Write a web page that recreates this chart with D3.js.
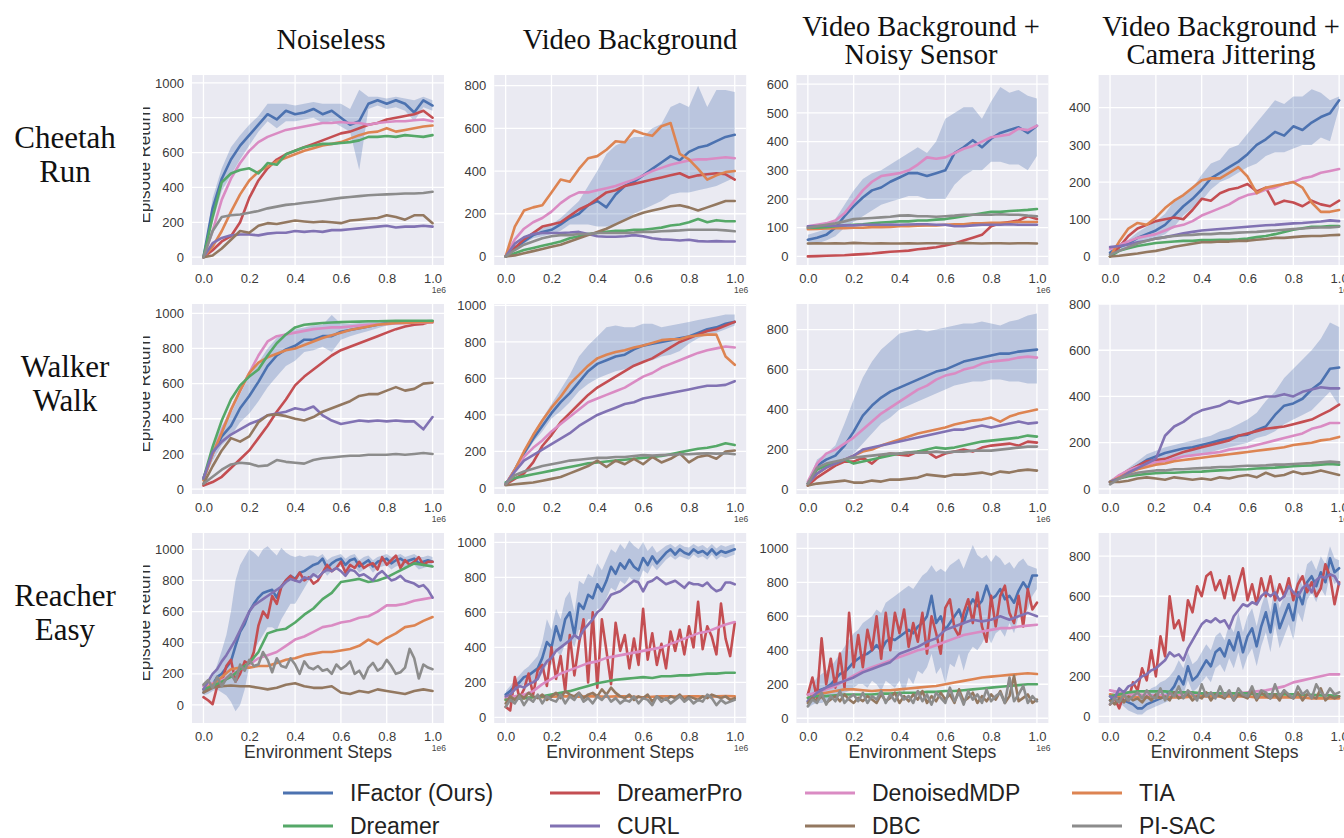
<!DOCTYPE html>
<html>
<head>
<meta charset="utf-8">
<script src="https://cdn.jsdelivr.net/npm/d3@7"></script>
<style>
  body { margin: 0; background: #fff; }
  svg { display: block; }
</style>
</head>
<body>
<svg id="chart" width="1344" height="838"></svg>
<script>
// ---------------------------------------------------------------------------
// Methods, environments and noise settings
// ---------------------------------------------------------------------------
const methodKeys = ["IFactor", "DreamerPro", "DenoisedMDP", "TIA", "Dreamer", "CURL", "DBC", "PISAC"];
const methodNames = ["IFactor (Ours)", "DreamerPro", "DenoisedMDP", "TIA", "Dreamer", "CURL", "DBC", "PI-SAC"];
const rowLabels = [["Cheetah", "Run"], ["Walker", "Walk"], ["Reacher", "Easy"]];
const colTitles = [["Noiseless"], ["Video Background"], ["Video Background +", "Noisy Sensor"], ["Video Background +", "Camera Jittering"]];
const xTicks = [0, 0.2, 0.4, 0.6, 0.8, 1.0];
const ticks1000 = [0, 200, 400, 600, 800, 1000];
const ticks800 = [0, 200, 400, 600, 800];
const ticks600 = [0, 100, 200, 300, 400, 500, 600];
const ticks400 = [0, 100, 200, 300, 400];

// ---------------------------------------------------------------------------
// Episode returns (evenly spaced over 0 .. 1e6 environment steps)
// ---------------------------------------------------------------------------
// Cheetah Run
const cheetahNoiseless = {
  IFactor:     [0, 280, 450, 560, 640, 700, 760, 820, 790, 840, 820, 830, 850, 820, 840, 800, 760, 780, 880, 900, 880, 900, 880, 830, 900, 870],
  DreamerPro:  [0, 40, 90, 120, 200, 340, 440, 510, 560, 590, 610, 630, 650, 670, 690, 710, 720, 740, 760, 770, 790, 800, 810, 820, 840, 800],
  DenoisedMDP: [0, 150, 330, 450, 540, 610, 660, 690, 710, 730, 740, 750, 760, 770, 770, 775, 770, 770, 760, 770, 775, 780, 780, 785, 790, 780],
  TIA:         [0, 60, 150, 260, 360, 440, 490, 520, 550, 570, 590, 610, 625, 640, 650, 660, 680, 700, 715, 720, 740, 720, 730, 740, 750, 755],
  Dreamer:     [0, 230, 430, 480, 500, 510, 480, 540, 530, 590, 610, 630, 640, 650, 650, 655, 660, 670, 690, 690, 695, 690, 700, 695, 690, 700],
  CURL:        [0, 80, 110, 125, 130, 130, 125, 135, 140, 140, 150, 145, 150, 145, 155, 155, 160, 165, 170, 175, 180, 170, 175, 175, 180, 175],
  DBC:         [0, 10, 50, 100, 150, 140, 180, 195, 190, 200, 210, 205, 200, 205, 200, 195, 210, 215, 220, 225, 240, 230, 215, 240, 240, 195],
  PISAC:       [0, 150, 230, 240, 245, 255, 265, 280, 290, 300, 305, 312, 318, 325, 333, 340, 345, 350, 355, 358, 360, 362, 365, 365, 368, 375]
};
const cheetahNoiselessBand = {
  lo: [0, 200, 380, 470, 560, 640, 720, 780, 740, 780, 780, 790, 800, 770, 780, 750, 720, 500, 850, 870, 850, 860, 840, 780, 860, 840],
  hi: [0, 340, 510, 630, 700, 760, 810, 880, 880, 880, 870, 880, 890, 880, 880, 880, 850, 960, 920, 920, 910, 920, 910, 900, 920, 900]
};

const cheetahVideo = {
  IFactor:     [0, 40, 70, 100, 115, 125, 150, 180, 200, 240, 260, 230, 290, 330, 350, 380, 410, 440, 470, 450, 490, 510, 520, 540, 560, 570],
  DreamerPro:  [0, 40, 80, 110, 140, 150, 160, 190, 220, 240, 270, 300, 310, 330, 340, 350, 360, 370, 380, 390, 370, 380, 385, 390, 385, 360],
  DenoisedMDP: [0, 80, 130, 160, 180, 210, 250, 280, 300, 300, 310, 320, 330, 345, 360, 380, 400, 415, 430, 440, 450, 455, 455, 460, 465, 460],
  TIA:         [0, 140, 215, 230, 240, 300, 360, 350, 410, 460, 470, 500, 540, 535, 590, 575, 565, 610, 625, 480, 455, 410, 360, 380, 395, 400],
  Dreamer:     [0, 15, 30, 40, 50, 60, 70, 85, 95, 105, 110, 115, 120, 120, 125, 125, 130, 135, 145, 150, 160, 175, 160, 170, 165, 165],
  CURL:        [0, 60, 90, 105, 110, 110, 110, 112, 115, 105, 95, 92, 92, 95, 100, 95, 85, 80, 78, 75, 78, 72, 70, 72, 70, 70],
  DBC:         [0, 5, 15, 25, 35, 45, 55, 70, 85, 100, 115, 130, 150, 170, 190, 205, 215, 225, 235, 240, 230, 215, 230, 245, 260, 260],
  PISAC:       [0, 30, 55, 70, 85, 95, 100, 100, 105, 105, 110, 110, 110, 110, 112, 115, 115, 118, 120, 122, 125, 125, 125, 125, 122, 118]
};
const cheetahVideoBand = {
  lo: [0, 30, 60, 85, 95, 105, 120, 150, 150, 150, 140, 140, 150, 170, 200, 220, 240, 260, 290, 300, 300, 310, 320, 330, 350, 370],
  hi: [0, 50, 80, 115, 135, 150, 180, 220, 260, 330, 400, 480, 520, 540, 560, 560, 600, 620, 700, 720, 700, 800, 700, 780, 780, 770]
};

const cheetahNoisy = {
  IFactor:     [58, 65, 75, 100, 140, 175, 205, 230, 240, 260, 275, 290, 290, 280, 290, 300, 360, 380, 405, 380, 410, 430, 440, 450, 430, 455],
  DreamerPro:  [0, 1, 2, 3, 4, 6, 8, 10, 13, 16, 18, 20, 25, 28, 32, 38, 45, 55, 65, 75, 105, 115, 120, 125, 140, 130],
  DenoisedMDP: [105, 110, 115, 125, 150, 190, 230, 260, 280, 285, 290, 300, 320, 345, 340, 345, 360, 375, 385, 400, 415, 420, 425, 445, 440, 455],
  TIA:         [95, 96, 97, 98, 98, 100, 100, 102, 102, 103, 105, 105, 107, 108, 108, 110, 112, 112, 115, 115, 117, 117, 118, 120, 120, 120],
  Dreamer:     [100, 100, 102, 105, 108, 110, 112, 115, 118, 120, 122, 122, 125, 125, 128, 130, 135, 140, 145, 150, 155, 155, 158, 160, 162, 165],
  CURL:        [105, 106, 107, 107, 108, 108, 110, 110, 110, 111, 110, 111, 112, 112, 110, 110, 105, 105, 108, 110, 110, 110, 112, 110, 110, 110],
  DBC:         [45, 46, 45, 46, 45, 47, 46, 45, 46, 45, 45, 46, 45, 46, 46, 45, 46, 47, 46, 45, 46, 46, 45, 46, 46, 45],
  PISAC:       [100, 105, 110, 115, 122, 130, 132, 134, 136, 138, 142, 143, 140, 140, 138, 140, 142, 145, 145, 145, 145, 147, 145, 145, 142, 140]
};
const cheetahNoisyBand = {
  lo: [40, 45, 55, 70, 100, 120, 140, 160, 180, 190, 200, 210, 210, 200, 200, 200, 250, 280, 300, 300, 330, 330, 320, 320, 300, 350],
  hi: [75, 85, 95, 130, 180, 230, 270, 290, 300, 320, 340, 360, 380, 360, 400, 480, 500, 520, 520, 480, 540, 590, 570, 580, 560, 550]
};

const cheetahJitter = {
  IFactor:     [10, 25, 35, 50, 60, 70, 85, 110, 135, 155, 180, 210, 225, 240, 255, 275, 300, 315, 335, 325, 350, 340, 360, 375, 385, 420],
  DreamerPro:  [0, 25, 55, 75, 85, 95, 100, 105, 100, 125, 155, 150, 170, 180, 185, 195, 175, 185, 140, 150, 145, 135, 150, 140, 135, 150],
  DenoisedMDP: [20, 30, 40, 50, 55, 60, 70, 80, 85, 95, 110, 120, 130, 140, 155, 165, 170, 180, 185, 195, 200, 210, 215, 225, 230, 235],
  TIA:         [0, 40, 75, 90, 85, 105, 130, 150, 165, 185, 205, 210, 210, 225, 240, 215, 170, 185, 190, 195, 200, 185, 145, 120, 120, 125],
  Dreamer:     [0, 15, 22, 28, 32, 36, 38, 40, 42, 42, 44, 44, 45, 45, 46, 48, 52, 55, 60, 66, 72, 76, 80, 80, 82, 82],
  CURL:        [25, 28, 32, 38, 42, 48, 52, 57, 62, 66, 70, 72, 74, 76, 78, 80, 82, 84, 85, 87, 89, 90, 92, 94, 97, 95],
  DBC:         [0, 2, 5, 8, 12, 15, 20, 26, 30, 34, 38, 38, 40, 40, 42, 42, 45, 47, 50, 50, 52, 54, 55, 55, 57, 58],
  PISAC:       [5, 15, 25, 35, 42, 48, 52, 55, 57, 58, 60, 60, 62, 62, 64, 65, 66, 68, 70, 72, 74, 75, 77, 78, 78, 80]
};
const cheetahJitterBand = {
  lo: [0, 15, 25, 35, 45, 50, 60, 80, 110, 130, 150, 180, 200, 210, 225, 240, 250, 270, 280, 280, 290, 300, 300, 320, 310, 400],
  hi: [20, 35, 45, 65, 80, 95, 115, 150, 165, 185, 220, 250, 260, 290, 300, 330, 360, 390, 420, 410, 430, 430, 450, 440, 420, 430]
};

// Walker Walk
const walkerNoiseless = {
  IFactor:     [60, 200, 300, 360, 460, 530, 610, 700, 760, 795, 815, 850, 850, 870, 870, 895, 905, 915, 925, 935, 945, 948, 950, 950, 952, 955],
  DreamerPro:  [20, 40, 70, 120, 170, 220, 290, 360, 440, 510, 590, 640, 680, 720, 760, 790, 810, 830, 850, 870, 890, 910, 925, 935, 940, 955],
  DenoisedMDP: [60, 200, 330, 450, 560, 660, 760, 840, 870, 880, 890, 900, 910, 915, 920, 920, 925, 930, 935, 938, 940, 942, 945, 946, 948, 948],
  TIA:         [50, 200, 320, 450, 560, 660, 720, 750, 770, 790, 800, 820, 840, 860, 875, 890, 905, 915, 925, 935, 940, 945, 945, 948, 950, 950],
  Dreamer:     [60, 240, 390, 510, 590, 640, 680, 760, 830, 880, 920, 935, 940, 945, 948, 950, 952, 953, 955, 955, 956, 957, 958, 958, 958, 958],
  CURL:        [60, 210, 270, 310, 340, 370, 390, 420, 430, 440, 460, 450, 470, 420, 390, 370, 380, 390, 385, 390, 385, 390, 385, 385, 340, 410],
  DBC:         [30, 130, 220, 290, 270, 300, 380, 420, 425, 415, 400, 390, 410, 440, 460, 480, 500, 530, 540, 540, 560, 580, 560, 570, 600, 605],
  PISAC:       [30, 70, 110, 140, 150, 145, 130, 135, 165, 155, 150, 145, 165, 175, 180, 185, 190, 190, 195, 195, 195, 200, 195, 200, 205, 200]
};
const walkerNoiselessBand = {
  lo: [40, 160, 250, 300, 380, 430, 500, 580, 640, 700, 730, 780, 790, 810, 780, 850, 870, 885, 900, 915, 930, 935, 940, 940, 945, 945],
  hi: [80, 240, 360, 430, 540, 640, 720, 800, 860, 890, 910, 920, 930, 935, 990, 940, 940, 945, 950, 950, 955, 960, 960, 960, 960, 965]
};

const walkerVideo = {
  IFactor:     [20, 100, 190, 270, 340, 410, 470, 520, 580, 640, 680, 700, 720, 730, 760, 780, 790, 800, 810, 820, 830, 850, 870, 880, 900, 910],
  DreamerPro:  [20, 50, 80, 140, 230, 290, 360, 410, 460, 510, 550, 580, 610, 640, 670, 690, 710, 740, 770, 800, 820, 840, 860, 870, 890, 910],
  DenoisedMDP: [20, 100, 170, 220, 260, 310, 350, 390, 430, 470, 490, 510, 530, 550, 580, 610, 630, 660, 680, 700, 720, 740, 755, 765, 775, 770],
  TIA:         [20, 100, 200, 290, 370, 440, 500, 570, 620, 670, 710, 730, 745, 755, 770, 780, 795, 810, 815, 815, 830, 835, 840, 840, 720, 675],
  Dreamer:     [30, 55, 65, 75, 85, 95, 105, 115, 125, 135, 140, 145, 150, 155, 160, 165, 170, 175, 185, 195, 205, 215, 220, 230, 245, 235],
  CURL:        [20, 90, 150, 180, 210, 240, 270, 300, 340, 370, 400, 420, 440, 460, 470, 490, 500, 510, 520, 530, 540, 550, 560, 560, 565, 585],
  DBC:         [15, 20, 25, 30, 40, 50, 60, 80, 100, 120, 150, 115, 150, 130, 160, 130, 170, 140, 160, 190, 140, 170, 180, 160, 200, 205],
  PISAC:       [20, 70, 90, 105, 120, 130, 140, 150, 155, 160, 165, 165, 170, 170, 175, 180, 178, 180, 182, 185, 185, 188, 190, 188, 190, 185]
};
const walkerVideoBand = {
  lo: [15, 85, 170, 250, 310, 380, 420, 470, 530, 570, 600, 620, 640, 650, 670, 690, 700, 720, 730, 750, 790, 820, 840, 850, 870, 890],
  hi: [25, 115, 210, 300, 380, 460, 540, 620, 720, 780, 830, 880, 890, 880, 880, 900, 900, 880, 890, 900, 910, 920, 930, 940, 950, 950]
};

const walkerNoisy = {
  IFactor:     [30, 120, 150, 170, 220, 290, 370, 420, 460, 490, 510, 530, 550, 570, 590, 600, 620, 640, 650, 660, 670, 680, 680, 690, 695, 700],
  DreamerPro:  [20, 60, 90, 120, 140, 140, 160, 130, 170, 180, 175, 170, 190, 190, 160, 180, 190, 200, 190, 210, 220, 225, 230, 220, 240, 235],
  DenoisedMDP: [40, 130, 180, 200, 230, 260, 300, 340, 380, 410, 440, 470, 500, 520, 550, 570, 580, 600, 610, 630, 640, 645, 650, 660, 665, 660],
  TIA:         [30, 80, 110, 130, 150, 170, 190, 200, 220, 235, 250, 265, 280, 290, 300, 310, 325, 335, 345, 350, 360, 340, 365, 380, 390, 400],
  Dreamer:     [30, 100, 120, 130, 150, 130, 140, 150, 160, 170, 180, 185, 190, 200, 210, 205, 210, 220, 230, 240, 245, 250, 255, 260, 270, 265],
  CURL:        [30, 80, 110, 130, 150, 170, 200, 210, 220, 230, 240, 250, 260, 270, 280, 290, 300, 300, 310, 320, 310, 320, 330, 340, 330, 335],
  DBC:         [20, 30, 35, 40, 45, 35, 35, 45, 40, 50, 50, 55, 60, 75, 70, 65, 75, 75, 80, 85, 75, 90, 85, 95, 100, 95],
  PISAC:       [30, 110, 130, 140, 150, 160, 165, 170, 175, 180, 180, 185, 185, 185, 190, 185, 190, 190, 195, 195, 195, 200, 205, 210, 215, 215]
};
const walkerNoisyBand = {
  lo: [20, 90, 110, 120, 140, 180, 230, 280, 330, 360, 400, 420, 440, 460, 480, 500, 520, 530, 540, 540, 550, 550, 540, 540, 530, 530],
  hi: [40, 150, 180, 220, 330, 450, 560, 640, 700, 740, 780, 790, 800, 790, 800, 810, 820, 830, 830, 840, 830, 820, 840, 850, 870, 880]
};

const walkerJitter = {
  IFactor:     [30, 50, 75, 100, 125, 140, 155, 165, 175, 180, 190, 200, 210, 220, 230, 235, 255, 270, 320, 360, 370, 390, 430, 460, 520, 525],
  DreamerPro:  [30, 55, 80, 100, 120, 125, 130, 145, 160, 170, 180, 190, 200, 210, 230, 240, 250, 260, 265, 270, 280, 290, 300, 320, 340, 365],
  DenoisedMDP: [30, 60, 80, 95, 105, 115, 120, 130, 140, 145, 150, 155, 160, 170, 175, 180, 190, 200, 210, 220, 230, 240, 260, 270, 285, 285],
  TIA:         [30, 50, 70, 85, 95, 105, 110, 120, 125, 130, 135, 140, 145, 150, 155, 160, 165, 170, 175, 180, 190, 195, 200, 210, 215, 225],
  Dreamer:     [30, 45, 55, 60, 65, 68, 70, 70, 72, 74, 75, 78, 80, 82, 84, 85, 88, 90, 92, 95, 98, 100, 102, 105, 108, 105],
  CURL:        [30, 45, 70, 90, 110, 130, 230, 270, 290, 320, 340, 350, 360, 380, 370, 380, 390, 400, 400, 410, 400, 420, 430, 440, 435, 435],
  DBC:         [30, 30, 35, 45, 50, 45, 40, 50, 45, 40, 45, 40, 50, 45, 55, 60, 50, 70, 55, 60, 75, 65, 70, 80, 70, 60],
  PISAC:       [20, 45, 60, 70, 75, 80, 80, 85, 85, 88, 90, 92, 95, 95, 98, 100, 100, 102, 105, 105, 108, 110, 112, 115, 118, 115]
};
const walkerJitterBand = {
  lo: [20, 40, 60, 80, 100, 110, 120, 130, 140, 145, 150, 160, 170, 180, 190, 200, 220, 230, 250, 280, 300, 320, 340, 380, 420, 360],
  hi: [40, 60, 90, 120, 150, 165, 180, 190, 200, 210, 220, 230, 250, 260, 280, 300, 330, 380, 420, 480, 520, 560, 600, 650, 720, 700]
};

// Reacher Easy
const reacherNoiseless = {
  IFactor:     [80, 100, 130, 180, 200, 240, 280, 380, 470, 520, 600, 650, 690, 720, 730, 740, 690, 760, 800, 830, 810, 850, 860, 880, 900, 910, 940, 880, 910, 930, 940, 900, 930, 940, 890, 910, 930, 890, 920, 930, 940, 910, 930, 940, 920, 930, 940, 910, 920, 930, 920],
  DreamerPro:  [50, 30, 5, 120, 150, 250, 290, 150, 200, 280, 260, 340, 510, 600, 560, 700, 650, 760, 800, 830, 800, 850, 800, 820, 780, 800, 850, 900, 860, 880, 920, 850, 900, 880, 920, 880, 900, 910, 870, 950, 900, 930, 960, 880, 930, 900, 920, 950, 900, 920, 920],
  DenoisedMDP: [120, 140, 160, 190, 230, 260, 300, 320, 340, 380, 420, 440, 470, 500, 510, 530, 540, 560, 570, 600, 640, 640, 650, 670, 680, 690],
  TIA:         [100, 130, 180, 230, 240, 240, 250, 250, 270, 290, 300, 320, 330, 340, 340, 350, 360, 380, 420, 390, 430, 460, 500, 510, 540, 565],
  Dreamer:     [100, 120, 150, 180, 230, 270, 340, 460, 480, 490, 530, 580, 620, 680, 720, 790, 800, 810, 790, 800, 820, 850, 880, 910, 900, 890],
  CURL:        [100, 150, 200, 230, 280, 320, 370, 420, 480, 540, 600, 640, 660, 680, 700, 720, 740, 760, 790, 810, 800, 790, 820, 810, 840, 820, 850, 870, 860, 880, 860, 830, 870, 860, 830, 840, 820, 800, 840, 860, 830, 800, 810, 830, 800, 790, 780, 760, 770, 740, 690],
  DBC:         [80, 110, 120, 125, 120, 120, 110, 100, 110, 130, 140, 120, 110, 110, 120, 80, 70, 90, 80, 100, 90, 80, 70, 90, 100, 90],
  PISAC:       [130, 160, 110, 180, 120, 170, 200, 150, 260, 220, 290, 250, 260, 340, 290, 210, 300, 250, 240, 300, 260, 200, 280, 240, 230, 250, 220, 230, 200, 260, 230, 250, 280, 200, 220, 170, 240, 270, 220, 240, 290, 250, 200, 210, 240, 360, 300, 170, 260, 240, 230]
};
const reacherNoiselessBand = {
  lo: [60, 70, 90, 100, 80, 60, 20, -40, 0, 100, 250, 350, 400, 450, 500, 500, 480, 550, 600, 650, 650, 700, 750, 800, 820, 840, 870, 830, 860, 880, 890, 860, 880, 890, 850, 870, 890, 850, 880, 890, 900, 870, 890, 900, 880, 890, 900, 870, 880, 890, 880],
  hi: [100, 140, 180, 260, 350, 450, 600, 800, 900, 950, 1000, 980, 950, 1000, 1020, 990, 960, 1010, 980, 960, 950, 960, 950, 960, 960, 950, 970, 930, 950, 960, 970, 940, 960, 970, 930, 950, 960, 930, 950, 960, 970, 950, 960, 970, 950, 960, 970, 950, 950, 960, 950]
};

const reacherVideo = {
  IFactor:     [130, 150, 180, 200, 230, 240, 260, 280, 340, 430, 400, 520, 440, 560, 600, 470, 650, 620, 700, 680, 760, 720, 780, 860, 820, 880, 850, 900, 860, 840, 910, 870, 920, 880, 910, 940, 960, 930, 960, 940, 930, 960, 940, 950, 930, 960, 930, 950, 940, 950, 960],
  DreamerPro:  [60, 40, 230, 110, 160, 250, 130, 270, 300, 180, 400, 220, 350, 150, 470, 240, 420, 560, 200, 600, 170, 560, 380, 190, 540, 380, 470, 280, 450, 300, 620, 330, 480, 300, 420, 280, 490, 380, 500, 360, 520, 400, 660, 390, 520, 460, 360, 650, 450, 350, 540],
  DenoisedMDP: [110, 120, 130, 150, 190, 220, 250, 270, 290, 310, 320, 340, 350, 360, 370, 380, 390, 400, 420, 440, 460, 480, 490, 510, 530, 545],
  TIA:         [100, 105, 110, 115, 115, 118, 120, 120, 118, 120, 120, 118, 120, 120, 118, 115, 118, 120, 120, 118, 120, 120, 118, 120, 122, 120],
  Dreamer:     [100, 105, 110, 115, 120, 130, 140, 150, 165, 180, 195, 205, 215, 220, 225, 230, 225, 235, 235, 240, 240, 245, 250, 250, 255, 255],
  CURL:        [120, 130, 160, 180, 170, 190, 200, 220, 280, 320, 340, 380, 400, 420, 440, 470, 450, 500, 530, 560, 600, 620, 660, 700, 710, 720, 740, 760, 780, 770, 720, 770, 780, 800, 780, 760, 770, 780, 760, 740, 770, 760, 760, 750, 770, 740, 720, 730, 770, 770, 760],
  DBC:         [80, 120, 100, 130, 110, 140, 120, 110, 130, 100, 120, 140, 110, 150, 130, 120, 140, 110, 130, 140, 120, 160, 130, 170, 140, 120, 110, 130, 100, 120, 110, 130, 90, 120, 110, 100, 120, 110, 130, 100, 120, 110, 100, 120, 110, 130, 120, 110, 120, 100, 110],
  PISAC:       [60, 100, 80, 120, 70, 110, 90, 130, 80, 120, 100, 90, 130, 80, 120, 100, 140, 90, 110, 80, 120, 100, 130, 90, 110, 80, 100, 90, 120, 80, 110, 100, 70, 120, 90, 110, 80, 100, 120, 90, 110, 80, 100, 90, 130, 110, 70, 100, 80, 90, 100]
};
const reacherVideoBand = {
  lo: [110, 120, 150, 170, 190, 200, 200, 210, 250, 300, 300, 380, 350, 420, 450, 400, 500, 500, 560, 560, 620, 620, 680, 740, 720, 780, 760, 800, 780, 770, 840, 820, 870, 840, 870, 900, 920, 900, 920, 910, 900, 930, 910, 920, 900, 930, 900, 920, 910, 920, 930],
  hi: [150, 180, 210, 240, 270, 290, 320, 350, 430, 560, 500, 620, 560, 680, 720, 600, 780, 760, 820, 800, 880, 840, 900, 960, 940, 990, 960, 1010, 980, 960, 1000, 950, 980, 940, 960, 980, 990, 970, 990, 975, 970, 990, 975, 985, 965, 990, 965, 985, 975, 985, 990]
};

const reacherNoisy = {
  IFactor:     [100, 140, 160, 170, 180, 200, 230, 260, 270, 300, 330, 350, 370, 380, 400, 430, 400, 450, 470, 460, 480, 500, 520, 500, 540, 560, 600, 720, 560, 600, 520, 560, 600, 640, 560, 650, 700, 660, 690, 780, 700, 720, 760, 700, 720, 680, 750, 800, 760, 840, 840],
  DreamerPro:  [140, 240, 120, 470, 200, 350, 180, 380, 180, 620, 300, 490, 300, 520, 400, 600, 350, 620, 400, 620, 500, 640, 420, 560, 450, 620, 380, 600, 500, 380, 650, 700, 530, 480, 620, 700, 560, 740, 540, 450, 720, 540, 720, 780, 620, 560, 720, 540, 760, 640, 680],
  DenoisedMDP: [140, 150, 170, 190, 220, 250, 280, 300, 320, 340, 360, 380, 400, 410, 430, 450, 470, 490, 500, 510, 520, 530, 530, 540, 545, 550],
  TIA:         [120, 140, 150, 160, 170, 170, 165, 160, 165, 165, 170, 175, 180, 185, 190, 200, 210, 220, 230, 240, 245, 250, 255, 260, 265, 260],
  Dreamer:     [120, 130, 130, 135, 140, 140, 140, 140, 145, 145, 150, 150, 150, 155, 155, 160, 160, 165, 170, 175, 180, 185, 190, 195, 200, 200],
  CURL:        [100, 150, 180, 200, 220, 240, 270, 290, 310, 330, 380, 400, 420, 450, 470, 520, 540, 560, 580, 570, 580, 600, 580, 600, 620, 600],
  DBC:         [90, 120, 100, 130, 90, 110, 130, 100, 140, 110, 90, 120, 100, 130, 110, 90, 140, 100, 120, 150, 90, 130, 100, 140, 110, 160, 90, 130, 100, 150, 110, 140, 90, 170, 100, 120, 150, 90, 130, 100, 140, 110, 160, 90, 130, 250, 100, 120, 140, 90, 110],
  PISAC:       [70, 110, 90, 150, 80, 130, 100, 160, 90, 120, 140, 100, 150, 90, 130, 110, 160, 90, 140, 100, 150, 110, 130, 90, 160, 100, 140, 80, 150, 120, 90, 180, 100, 150, 80, 160, 110, 140, 90, 170, 100, 130, 150, 90, 240, 100, 140, 190, 90, 130, 100]
};
const reacherNoisyBand = {
  lo: [60, 80, 90, 90, 100, 110, 120, 140, 150, 160, 180, 200, 200, 180, 220, 200, 160, 220, 200, 180, 220, 140, 240, 200, 280, 260, 300, 380, 260, 300, 200, 320, 300, 380, 280, 380, 420, 400, 440, 500, 440, 500, 520, 480, 560, 500, 600, 620, 640, 720, 760],
  hi: [140, 200, 240, 260, 280, 300, 340, 380, 420, 460, 500, 520, 560, 580, 600, 640, 620, 680, 700, 720, 740, 760, 780, 760, 800, 840, 860, 900, 860, 880, 860, 900, 920, 940, 880, 950, 1020, 960, 940, 960, 920, 960, 940, 900, 920, 880, 920, 940, 900, 890, 880]
};

const reacherJitter = {
  IFactor:     [80, 100, 100, 80, 70, 60, 40, 40, 60, 70, 80, 90, 100, 120, 150, 200, 160, 250, 180, 200, 240, 280, 250, 320, 340, 300, 380, 330, 420, 320, 400, 440, 350, 450, 520, 420, 560, 440, 500, 560, 480, 620, 560, 670, 700, 650, 720, 670, 790, 720, 740],
  DreamerPro:  [60, 90, 40, 110, 80, 170, 130, 240, 180, 330, 200, 400, 300, 600, 440, 480, 380, 580, 520, 650, 600, 700, 720, 630, 680, 590, 700, 580, 660, 740, 580, 660, 560, 690, 600, 700, 580, 660, 600, 690, 580, 660, 700, 620, 670, 600, 640, 760, 700, 560, 670],
  DenoisedMDP: [130, 120, 110, 110, 105, 105, 105, 105, 110, 110, 110, 110, 112, 115, 115, 120, 125, 130, 140, 150, 170, 180, 190, 200, 210, 210],
  TIA:         [110, 100, 95, 95, 95, 95, 95, 95, 95, 100, 100, 100, 100, 100, 100, 100, 95, 95, 95, 95, 95, 95, 90, 90, 90, 90],
  Dreamer:     [100, 110, 120, 125, 125, 125, 125, 120, 120, 120, 115, 115, 115, 115, 115, 115, 110, 110, 110, 110, 110, 108, 108, 105, 105, 100],
  CURL:        [100, 90, 140, 120, 150, 160, 180, 200, 210, 230, 240, 260, 280, 320, 300, 310, 280, 340, 380, 420, 460, 480, 470, 490, 470, 480, 440, 500, 530, 560, 550, 570, 560, 600, 620, 600, 620, 580, 600, 650, 620, 600, 640, 660, 620, 680, 700, 690, 710, 700, 660],
  DBC:         [80, 60, 90, 70, 100, 80, 90, 70, 100, 80, 110, 90, 100, 80, 120, 90, 100, 110, 80, 100, 90, 120, 80, 110, 100, 90, 120, 80, 110, 100, 90, 130, 80, 120, 100, 90, 110, 80, 130, 100, 90, 120, 80, 110, 100, 90, 140, 80, 100, 90, 100],
  PISAC:       [60, 90, 70, 110, 80, 100, 120, 90, 130, 100, 90, 140, 80, 120, 100, 150, 90, 130, 110, 80, 160, 100, 120, 90, 150, 100, 130, 80, 140, 110, 100, 150, 90, 130, 120, 90, 160, 100, 130, 110, 90, 150, 110, 130, 90, 160, 120, 100, 140, 110, 120]
};
const reacherJitterBand = {
  lo: [60, 70, 70, 50, 30, 20, 10, 10, 30, 40, 50, 60, 70, 80, 100, 140, 110, 180, 120, 140, 170, 200, 170, 240, 260, 220, 290, 240, 320, 230, 300, 340, 250, 350, 420, 320, 460, 340, 400, 460, 380, 520, 470, 580, 620, 570, 640, 600, 710, 660, 690],
  hi: [100, 130, 130, 120, 110, 110, 90, 100, 120, 140, 150, 170, 180, 200, 230, 280, 240, 320, 260, 280, 320, 360, 330, 400, 420, 380, 460, 420, 520, 420, 500, 540, 450, 550, 620, 520, 660, 540, 600, 660, 580, 720, 650, 760, 780, 730, 800, 760, 850, 790, 780]
};

// Axis limits for each panel (rows: Cheetah, Walker, Reacher)
const yLimits = [
  [[-45, 1045], [-40, 850], [-30, 632], [-23, 488]],
  [[-28, 1053], [-33, 1008], [-22, 928], [-22, 800]],
  [[-116, 1105], [-32, 1053], [-28, 1090], [-33, 916]]
];
const yTickSets = [
  [ticks1000, ticks800, ticks600, ticks400],
  [ticks1000, ticks1000, ticks800, ticks800],
  [ticks1000, ticks1000, ticks1000, ticks800]
];
const panelSeries = [
  [cheetahNoiseless, cheetahVideo, cheetahNoisy, cheetahJitter],
  [walkerNoiseless, walkerVideo, walkerNoisy, walkerJitter],
  [reacherNoiseless, reacherVideo, reacherNoisy, reacherJitter]
];
const panelBands = [
  [cheetahNoiselessBand, cheetahVideoBand, cheetahNoisyBand, cheetahJitterBand],
  [walkerNoiselessBand, walkerVideoBand, walkerNoisyBand, walkerJitterBand],
  [reacherNoiselessBand, reacherVideoBand, reacherNoisyBand, reacherJitterBand]
];

// ---------------------------------------------------------------------------
// Styling and layout
// ---------------------------------------------------------------------------
const palette = {
  IFactor: "#4c72b0", DreamerPro: "#c44e52", DenoisedMDP: "#da8bc3", TIA: "#dd8452",
  Dreamer: "#55a868", CURL: "#8172b3", DBC: "#937860", PISAC: "#8c8c8c"
};
const sans = "'Liberation Sans', Arial, Helvetica, sans-serif";
const serif = "'Liberation Serif', 'Times New Roman', Times, serif";
const panelW = 252, panelH = 190;
const panelLeft = c => 192 + 302.2 * c;
const panelTop = r => 75 + 229 * r;

const svg = d3.select("#chart");
svg.append("rect").attr("width", 1344).attr("height", 838).attr("fill", "#ffffff");
const defs = svg.append("defs");

// Column titles
const titleCenters = [331, 630, 921, 1221];
colTitles.forEach((lines, c) => {
  const baselines = lines.length === 1 ? [49] : [36, 64];
  lines.forEach((t, k) => {
    svg.append("text")
      .attr("x", titleCenters[c]).attr("y", baselines[k])
      .attr("text-anchor", "middle")
      .attr("font-family", serif).attr("font-size", 28.5).attr("fill", "#111")
      .text(t);
  });
});

// Row labels
rowLabels.forEach((lines, r) => {
  const mid = panelTop(r) + panelH / 2;
  lines.forEach((t, k) => {
    svg.append("text")
      .attr("x", 65).attr("y", mid - 22 + k * 34)
      .attr("text-anchor", "middle")
      .attr("font-family", serif).attr("font-size", 31).attr("fill", "#111")
      .text(t);
  });
});

// Y-axis title, partly hidden behind the row label column
defs.append("clipPath").attr("id", "ylabel-clip")
  .append("rect").attr("x", 143).attr("y", 0).attr("width", 40).attr("height", 838);
const yLabelLayer = svg.append("g").attr("clip-path", "url(#ylabel-clip)");
rowLabels.forEach((_, r) => {
  const mid = panelTop(r) + panelH / 2;
  yLabelLayer.append("text")
    .attr("transform", `translate(150,${mid - 5}) rotate(-90)`)
    .attr("text-anchor", "middle")
    .attr("font-family", sans).attr("font-size", 17).attr("fill", "#333")
    .text("Episode Return");
});

// Panels
for (let r = 0; r < 3; r++) {
  for (let c = 0; c < 4; c++) {
    const left = panelLeft(c), top = panelTop(r);
    const x = d3.scaleLinear().domain([-0.05, 1.05]).range([left, left + panelW]);
    const y = d3.scaleLinear().domain(yLimits[r][c]).range([top + panelH, top]);
    const g = svg.append("g");
    const clipId = `clip-${r}-${c}`;
    defs.append("clipPath").attr("id", clipId)
      .append("rect").attr("x", left).attr("y", top).attr("width", panelW).attr("height", panelH);

    g.append("rect").attr("x", left).attr("y", top).attr("width", panelW).attr("height", panelH)
      .attr("fill", "#eaeaf2");

    const grid = g.append("g").attr("clip-path", `url(#${clipId})`)
      .attr("stroke", "#ffffff").attr("stroke-width", 1.3);
    yTickSets[r][c].forEach(v => {
      grid.append("line").attr("x1", left).attr("x2", left + panelW)
        .attr("y1", y(v)).attr("y2", y(v));
    });
    xTicks.forEach(v => {
      grid.append("line").attr("y1", top).attr("y2", top + panelH)
        .attr("x1", x(v)).attr("x2", x(v));
    });

    const plot = g.append("g").attr("clip-path", `url(#${clipId})`);
    const band = panelBands[r][c];
    const nb = band.lo.length;
    const area = d3.area()
      .x((d, i) => x(i / (nb - 1)))
      .y0((d, i) => y(band.lo[i]))
      .y1((d, i) => y(band.hi[i]));
    plot.append("path").attr("d", area(band.lo))
      .attr("fill", palette.IFactor).attr("fill-opacity", 0.3).attr("stroke", "none");

    const series = panelSeries[r][c];
    methodKeys.forEach(key => {
      const vals = series[key];
      const n = vals.length;
      const line = d3.line().x((d, i) => x(i / (n - 1))).y(d => y(d));
      plot.append("path").attr("d", line(vals))
        .attr("fill", "none").attr("stroke", palette[key])
        .attr("stroke-width", 2.6).attr("stroke-linejoin", "round").attr("stroke-linecap", "round");
    });

    // Axes
    const yAxis = d3.axisLeft(y).tickValues(yTickSets[r][c]).tickSize(0).tickPadding(8).tickFormat(d3.format("d"));
    const ya = g.append("g").attr("transform", `translate(${left},0)`).call(yAxis);
    ya.select(".domain").remove();
    ya.selectAll("text").attr("font-family", sans).attr("font-size", 13).attr("fill", "#3a3a3a");

    const xAxis = d3.axisBottom(x).tickValues(xTicks).tickSize(0).tickPadding(9).tickFormat(d3.format(".1f"));
    const xa = g.append("g").attr("transform", `translate(0,${top + panelH})`).call(xAxis);
    xa.select(".domain").remove();
    xa.selectAll("text").attr("font-family", sans).attr("font-size", 13).attr("fill", "#3a3a3a");

    g.append("text").attr("x", left + panelW + 2).attr("y", top + panelH + 28)
      .attr("text-anchor", "end").attr("font-family", sans).attr("font-size", 8.5).attr("fill", "#444")
      .text("1e6");

    if (r === 2) {
      g.append("text").attr("x", x(0.5)).attr("y", top + panelH + 35)
        .attr("text-anchor", "middle").attr("font-family", sans).attr("font-size", 17.5).attr("fill", "#333")
        .text("Environment Steps");
    }
  }
}

// Legend
const legendLineX = [283, 550, 805, 1072];
const legendRowY = [793, 826];
methodKeys.forEach((key, i) => {
  const col = i % 4, row = Math.floor(i / 4);
  const lx = legendLineX[col], ly = legendRowY[row];
  svg.append("line").attr("x1", lx).attr("x2", lx + 50).attr("y1", ly).attr("y2", ly)
    .attr("stroke", palette[key]).attr("stroke-width", 3);
  svg.append("text").attr("x", lx + 67).attr("y", ly + 8)
    .attr("font-family", sans).attr("font-size", 23).attr("fill", "#222")
    .text(methodNames[i]);
});
</script>
</body>
</html>
